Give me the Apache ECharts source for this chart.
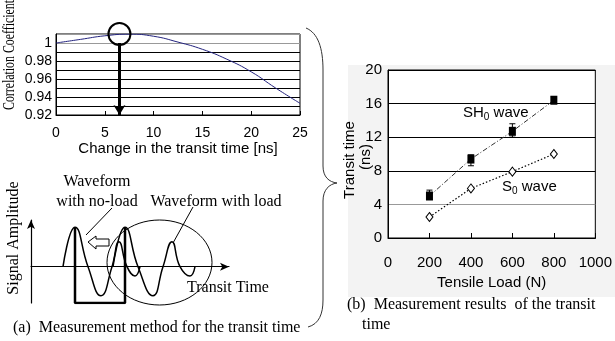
<!DOCTYPE html>
<html>
<head>
    <meta charset="utf-8">
    <title>Transit time</title>
    <script src="https://cdn.jsdelivr.net/npm/echarts@6/dist/echarts.min.js"></script>
</head>
<body style="margin:0;background:#fff">
    <div id="main" style="width:615px;height:341px;"></div>
    <script type="text/javascript">
        // (a) correlation coefficient vs. shift of the waveform
        var shiftNs = [0, 2.5, 5, 7.5, 10, 12.5, 15, 17.5, 20, 22.5, 25];
        var corrCoef = [1.0, 1.004, 1.008, 1.0098, 1.0075, 1.001, 0.993, 0.982, 0.968, 0.950, 0.933];
        var peakShift = 6.5;

        // (a) sketch of the two waveforms
        var noLoadX = [32, 44, 57, 70, 81, 88, 96, 104, 109];
        var noLoadY = [0, 38, 0, -28, 0, 24, 0, -9, 0];
        var loadX = [82, 94, 107, 122, 132, 141, 149, 159, 164];
        var loadY = [0, 38, 0, -28, 0, 24, 0, -9, 0];
        var bracketX = [44, 44, 94, 94];
        var bracketY = [38, -35, -35, 38];

        // (b) transit time vs tensile load
        var loadN = [200, 400, 600, 800];
        var sh0 = [5.0, 9.4, 12.7, 16.4];
        var sh0Low = [4.6, 8.6, 12.0, 16.1];
        var sh0High = [5.7, 9.9, 13.6, 16.8];
        var s0 = [2.5, 5.9, 7.9, 10.0];

        function pairs(xs, ys) {
            return xs.map(function (x, i) { return [x, ys[i]]; });
        }

        var myChart = echarts.init(document.getElementById('main'));
        var sans = 'Liberation Sans';
        var serif = 'Liberation Serif';

        function txt(x, y, s, size, font, align, extra) {
            var el = {
                type: 'text', x: x, y: y, silent: true,
                style: {
                    text: s, fill: '#000', font: size + 'px "' + font + '"',
                    textAlign: align || 'center', textVerticalAlign: 'middle',
                    align: align || 'center', verticalAlign: 'middle'
                }
            };
            if (extra) { for (var k in extra) el[k] = extra[k]; }
            return el;
        }
        function seg(x1, y1, x2, y2, w, c) {
            return { type: 'line', silent: true, shape: { x1: x1, y1: y1, x2: x2, y2: y2 },
                     style: { stroke: c || '#000', lineWidth: w || 1 } };
        }
        function curve(x1, y1, c1x, c1y, c2x, c2y, x2, y2) {
            return { type: 'bezierCurve', silent: true,
                     shape: { x1: x1, y1: y1, cpx1: c1x, cpy1: c1y, cpx2: c2x, cpy2: c2y, x2: x2, y2: y2 },
                     style: { fill: 'none', stroke: '#333', lineWidth: 1 } };
        }

        option = {
            backgroundColor: '#fff',
            animation: false,
            grid: [
                { left: 56, top: 34, width: 244, height: 81, show: true, borderColor: '#000', borderWidth: 1, backgroundColor: '#fff' },
                { left: 31, top: 220, width: 198, height: 83 },
                { left: 388, top: 70, width: 209, height: 168, show: true, borderColor: '#000', borderWidth: 1, backgroundColor: '#fff' }
            ],
            xAxis: [
                {
                    gridIndex: 0, type: 'value', min: 0, max: 25, interval: 5,
                    name: 'Change in the transit time [ns]', nameLocation: 'middle', nameGap: 23,
                    nameTextStyle: { color: '#000', fontFamily: sans, fontSize: 15 },
                    axisLine: { lineStyle: { color: '#000' } },
                    axisTick: { inside: true, length: 4, lineStyle: { color: '#000' } },
                    axisLabel: { color: '#000', fontFamily: sans, fontSize: 14, margin: 11 },
                    splitLine: { show: false }
                },
                {
                    gridIndex: 1, type: 'value', min: 0, max: 198,
                    axisLine: { onZero: true, symbol: ['none', 'arrow'], symbolSize: [6, 9], lineStyle: { color: '#000', width: 1.2 } },
                    axisTick: { show: false }, axisLabel: { show: false }, splitLine: { show: false }
                },
                {
                    gridIndex: 2, type: 'value', min: 0, max: 1000, interval: 200,
                    name: 'Tensile Load (N)', nameLocation: 'middle', nameGap: 37,
                    nameTextStyle: { color: '#000', fontFamily: sans, fontSize: 15 },
                    axisLine: { lineStyle: { color: '#000' } },
                    axisTick: { inside: true, length: 5, lineStyle: { color: '#000' } },
                    axisLabel: { color: '#000', fontFamily: sans, fontSize: 15, margin: 17,
                                 formatter: function (v) { return String(v); } },
                    splitLine: { show: false }
                }
            ],
            yAxis: [
                {
                    gridIndex: 0, type: 'value', min: 0.92, max: 1.01, interval: 0.01,
                    axisLine: { lineStyle: { color: '#000' } },
                    axisTick: { show: false },
                    axisLabel: {
                        color: '#000', fontFamily: sans, fontSize: 14, margin: 4,
                        formatter: function (v) {
                            var k = Math.round(v * 100);
                            if (k % 2 !== 0 || k > 100) return '';
                            return String(k / 100);
                        }
                    },
                    splitLine: { lineStyle: { color: ['#000', '#000', '#000', '#000', '#000', '#000', '#000', '#000', '#999', '#999'] } }
                },
                {
                    gridIndex: 1, type: 'value', min: -35, max: 45,
                    axisLine: { symbol: ['none', 'arrow'], symbolSize: [6, 9], lineStyle: { color: '#000', width: 1.2 } },
                    axisTick: { show: false }, axisLabel: { show: false }, splitLine: { show: false }
                },
                {
                    gridIndex: 2, type: 'value', min: 0, max: 20, interval: 4,
                    axisLine: { lineStyle: { color: '#000' } },
                    axisTick: { show: false },
                    axisLabel: { color: '#000', fontFamily: sans, fontSize: 15, margin: 6, padding: [8, 0, 0, 0] },
                    splitLine: { lineStyle: { color: ['#000', '#999', '#000', '#000', '#000', '#000'] } }
                }
            ],
            series: [
                {
                    type: 'line', xAxisIndex: 0, yAxisIndex: 0,
                    data: pairs(shiftNs, corrCoef), smooth: true, symbol: 'none',
                    lineStyle: { color: '#23237e', width: 1 },
                    markPoint: {
                        silent: true, symbol: 'circle', symbolSize: 22,
                        itemStyle: { color: 'rgba(0,0,0,0)', borderColor: '#000', borderWidth: 2 },
                        label: { show: false },
                        data: [{ coord: [peakShift, 1.01] }]
                    },
                    markLine: {
                        silent: true, symbol: ['none', 'arrow'], symbolSize: [9, 10],
                        label: { show: false },
                        lineStyle: { color: '#000', width: 3, type: 'solid' },
                        data: [[{ coord: [peakShift, 1.0] }, { coord: [peakShift, 0.92] }]]
                    }
                },
                {
                    type: 'line', xAxisIndex: 1, yAxisIndex: 1, data: pairs(noLoadX, noLoadY),
                    smooth: 0.5, symbol: 'none', lineStyle: { color: '#000', width: 1.5 }
                },
                {
                    type: 'line', xAxisIndex: 1, yAxisIndex: 1, data: pairs(loadX, loadY),
                    smooth: 0.5, symbol: 'none', lineStyle: { color: '#000', width: 1.5 }
                },
                {
                    type: 'line', xAxisIndex: 1, yAxisIndex: 1, data: pairs(bracketX, bracketY),
                    symbol: 'none', lineStyle: { color: '#000', width: 2.5 }
                },
                {
                    type: 'custom', xAxisIndex: 2, yAxisIndex: 2,
                    data: loadN.map(function (x, i) { return [x, sh0Low[i], sh0High[i]]; }),
                    renderItem: function (params, api) {
                        var lo = api.coord([api.value(0), api.value(1)]);
                        var hi = api.coord([api.value(0), api.value(2)]);
                        var w = 3, st = { stroke: '#000', lineWidth: 1 };
                        return { type: 'group', children: [
                            { type: 'line', shape: { x1: lo[0], y1: lo[1], x2: hi[0], y2: hi[1] }, style: st },
                            { type: 'line', shape: { x1: lo[0] - w, y1: lo[1], x2: lo[0] + w, y2: lo[1] }, style: st },
                            { type: 'line', shape: { x1: hi[0] - w, y1: hi[1], x2: hi[0] + w, y2: hi[1] }, style: st }
                        ] };
                    }
                },
                {
                    name: 'SH0 wave', type: 'line', xAxisIndex: 2, yAxisIndex: 2, data: pairs(loadN, sh0),
                    symbol: 'rect', symbolSize: [7, 9],
                    itemStyle: { color: '#000' },
                    lineStyle: { color: '#333', width: 1, type: [5, 2, 1, 2] }
                },
                {
                    name: 'S0 wave', type: 'line', xAxisIndex: 2, yAxisIndex: 2, data: pairs(loadN, s0),
                    symbol: 'diamond', symbolSize: [7, 9],
                    itemStyle: { color: '#fff', borderColor: '#000', borderWidth: 1 },
                    lineStyle: { color: '#000', width: 1.2, type: [1.5, 2] }
                }
            ],
            graphic: [
                { type: 'rect', z: -10, silent: true, shape: { x: 348, y: 65, width: 267, height: 232 }, style: { fill: '#f3f3f3' } },
                txt(10, 55, 'Correlation Coefficient', 16, serif, 'center', { rotation: Math.PI / 2, scaleX: 0.74 }),
                txt(14, 238, 'Signal Amplitude', 16, serif, 'center', { rotation: Math.PI / 2 }),
                txt(97, 182, 'Waveform', 16, serif),
                txt(97, 202, 'with no-load', 16, serif),
                txt(216, 202, 'Waveform with load', 16, serif),
                txt(187, 288, 'Transit Time', 16, serif, 'left'),
                seg(112, 208, 86, 235),
                seg(193, 207, 173, 243),
                { type: 'polygon', silent: true, z: 10,
                  shape: { points: [[88, 242], [96, 236], [96, 239], [109, 239], [109, 246], [96, 246], [96, 249]] },
                  style: { fill: '#fff', stroke: '#000', lineWidth: 1 } },
                { type: 'ellipse', silent: true, shape: { cx: 159.5, cy: 262.5, rx: 52.5, ry: 42.5 },
                  style: { fill: 'none', stroke: '#000', lineWidth: 1 } },
                txt(13, 328, '(a)  Measurement method for the transit time', 16, serif, 'left'),
                // curly brace linking (a) to (b)
                curve(306, 28, 318, 33, 323, 48, 323, 70),
                seg(323, 70, 323, 166, 1, '#333'),
                curve(323, 166, 323, 177, 329, 182, 337, 183),
                curve(337, 183, 329, 184, 323, 190, 323, 201),
                seg(323, 201, 323, 300, 1, '#333'),
                curve(323, 300, 323, 314, 319, 324, 308, 327),
                txt(350, 160, 'Transit time', 15, sans, 'center', { rotation: Math.PI / 2 }),
                txt(366, 157, '(ns)', 15, sans, 'center', { rotation: Math.PI / 2 }),
                { type: 'text', x: 463, y: 113, silent: true,
                  style: { text: '{a|SH}{b|0}{a| wave}', align: 'left', verticalAlign: 'middle', textAlign: 'left', textVerticalAlign: 'middle',
                           rich: { a: { fontSize: 15, fontFamily: sans, color: '#000' },
                                   b: { fontSize: 10, fontFamily: sans, color: '#000', padding: [9, 0, 0, 0] } } } },
                { type: 'text', x: 502, y: 187, silent: true,
                  style: { text: '{a|S}{b|0}{a| wave}', align: 'left', verticalAlign: 'middle', textAlign: 'left', textVerticalAlign: 'middle',
                           rich: { a: { fontSize: 15, fontFamily: sans, color: '#000' },
                                   b: { fontSize: 10, fontFamily: sans, color: '#000', padding: [9, 0, 0, 0] } } } },
                txt(347, 305, '(b)  Measurement results  of the transit', 16, serif, 'left'),
                txt(362, 325, 'time', 16, serif, 'left')
            ]
        };

        myChart.setOption(option);
    </script>
</body>
</html>
